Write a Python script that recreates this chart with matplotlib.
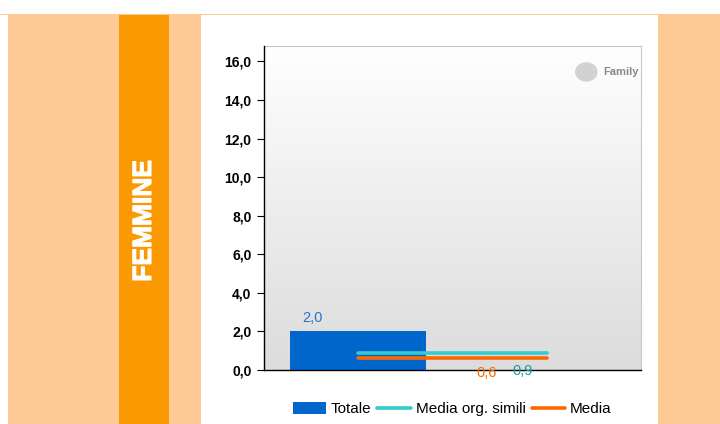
import matplotlib.pyplot as plt
import matplotlib.patheffects as pe
from matplotlib.patches import Rectangle
from matplotlib.colors import LinearSegmentedColormap
import numpy as np

plt.rcParams['font.family'] = ['Liberation Sans', 'DejaVu Sans']

categories = ["Totale", ""]
totale = [2.0, None]
media_simili = [0.9, 0.9]
media = [0.6, 0.6]
yticks = [0, 2, 4, 6, 8, 10, 12, 14, 16]
ytick_labels = ["0,0", "2,0", "4,0", "6,0", "8,0", "10,0", "12,0", "14,0", "16,0"]

W, H = 720, 424
fig = plt.figure(figsize=(7.2, 4.24), dpi=100)


def fig_rect(x0, y0, x1, y1, **kw):
    # pixel coords, y from top
    fig.patches.append(Rectangle((x0 / W, 1 - y1 / H), (x1 - x0) / W, (y1 - y0) / H,
                                 transform=fig.transFigure, figure=fig, zorder=-5, **kw))


# background panels
fig_rect(8, 14, 201, 424, facecolor="#fdca96", edgecolor="none")
fig_rect(119, 14, 169, 424, facecolor="#fb9902", edgecolor="none")
fig_rect(201, 14, 658, 424, facecolor="white", edgecolor="none")
fig_rect(658, 14, 720, 424, facecolor="#fdca96", edgecolor="none")
fig_rect(0, 14, 658, 15, facecolor="#fdca96", edgecolor="none")
fig.text(144 / W, 1 - 221 / H, "FEMMINE", rotation=90, color="white", fontsize=19,
         fontweight="bold", ha="center", va="center",
         path_effects=[pe.withStroke(linewidth=0.8, foreground="white")])

ax = fig.add_axes([264 / W, 1 - 370 / H, (641 - 264) / W, (370 - 46) / H])
ymax = 16.8
x = np.arange(len(categories))
ax.set_xlim(-0.5, 1.5)
ax.set_ylim(0, ymax)

# gradient plot background
grad = np.linspace(0, 1, 256).reshape(-1, 1)
ax.imshow(grad, extent=(-0.5, 1.5, 0, ymax), aspect="auto",
          cmap=LinearSegmentedColormap.from_list("g", ["#dcdcdc", "#ffffff"]), origin="lower", zorder=0)

bar = ax.bar(x[0], totale[0], width=0.72, color="#0066cc", zorder=2, label="Totale")
l1, = ax.plot(x, media_simili, color="#33cccc", lw=2.6, solid_capstyle="round", zorder=3, label="Media org. simili")
l2, = ax.plot(x, media, color="#ff6600", lw=2.6, solid_capstyle="round", zorder=3, label="Media")

ax.text(x[0] - 0.245, totale[0] + 0.68, "2,0", color="#1f77d0", fontsize=10.5, ha="center", va="center")
ax.text(0.683, -0.13, "0,6", color="#ff6600", fontsize=10.5, ha="center", va="center", zorder=4)
ax.text(0.874, -0.05, "0,9", color="#1a9a9a", fontsize=10.5, ha="center", va="center", zorder=4)

ax.set_yticks(yticks)
ax.set_yticklabels(ytick_labels, fontweight="bold", fontsize=10)
ax.set_xticks([])
ax.tick_params(axis="y", direction="out", length=5, width=0.8, pad=4)
for s in ["top", "right"]:
    ax.spines[s].set_color("#c8c8c8")
    ax.spines[s].set_linewidth(0.8)
for s in ["left", "bottom"]:
    ax.spines[s].set_color("black")
    ax.spines[s].set_linewidth(1.0)
    ax.spines[s].set_zorder(3.5)

# logo
ax.text(0.995, 0.92, "Family", transform=ax.transAxes, color="#888888", fontsize=8,
        fontweight="bold", ha="right", va="center", zorder=6)
ax.add_patch(plt.Circle((0.855, 0.92), 0.03, transform=ax.transAxes, facecolor="#aaaaaa",
                        edgecolor="none", alpha=0.5, zorder=5))

fig.legend([bar, l1, l2], ["Totale", "Media org. simili", "Media"], loc="center",
           bbox_to_anchor=(452 / W, 1 - 409 / H), ncol=3, frameon=False, fontsize=11,
           handlelength=2.2, handleheight=0.8, handletextpad=0.3, columnspacing=0.4)

fig.savefig("out.png", dpi=100)
